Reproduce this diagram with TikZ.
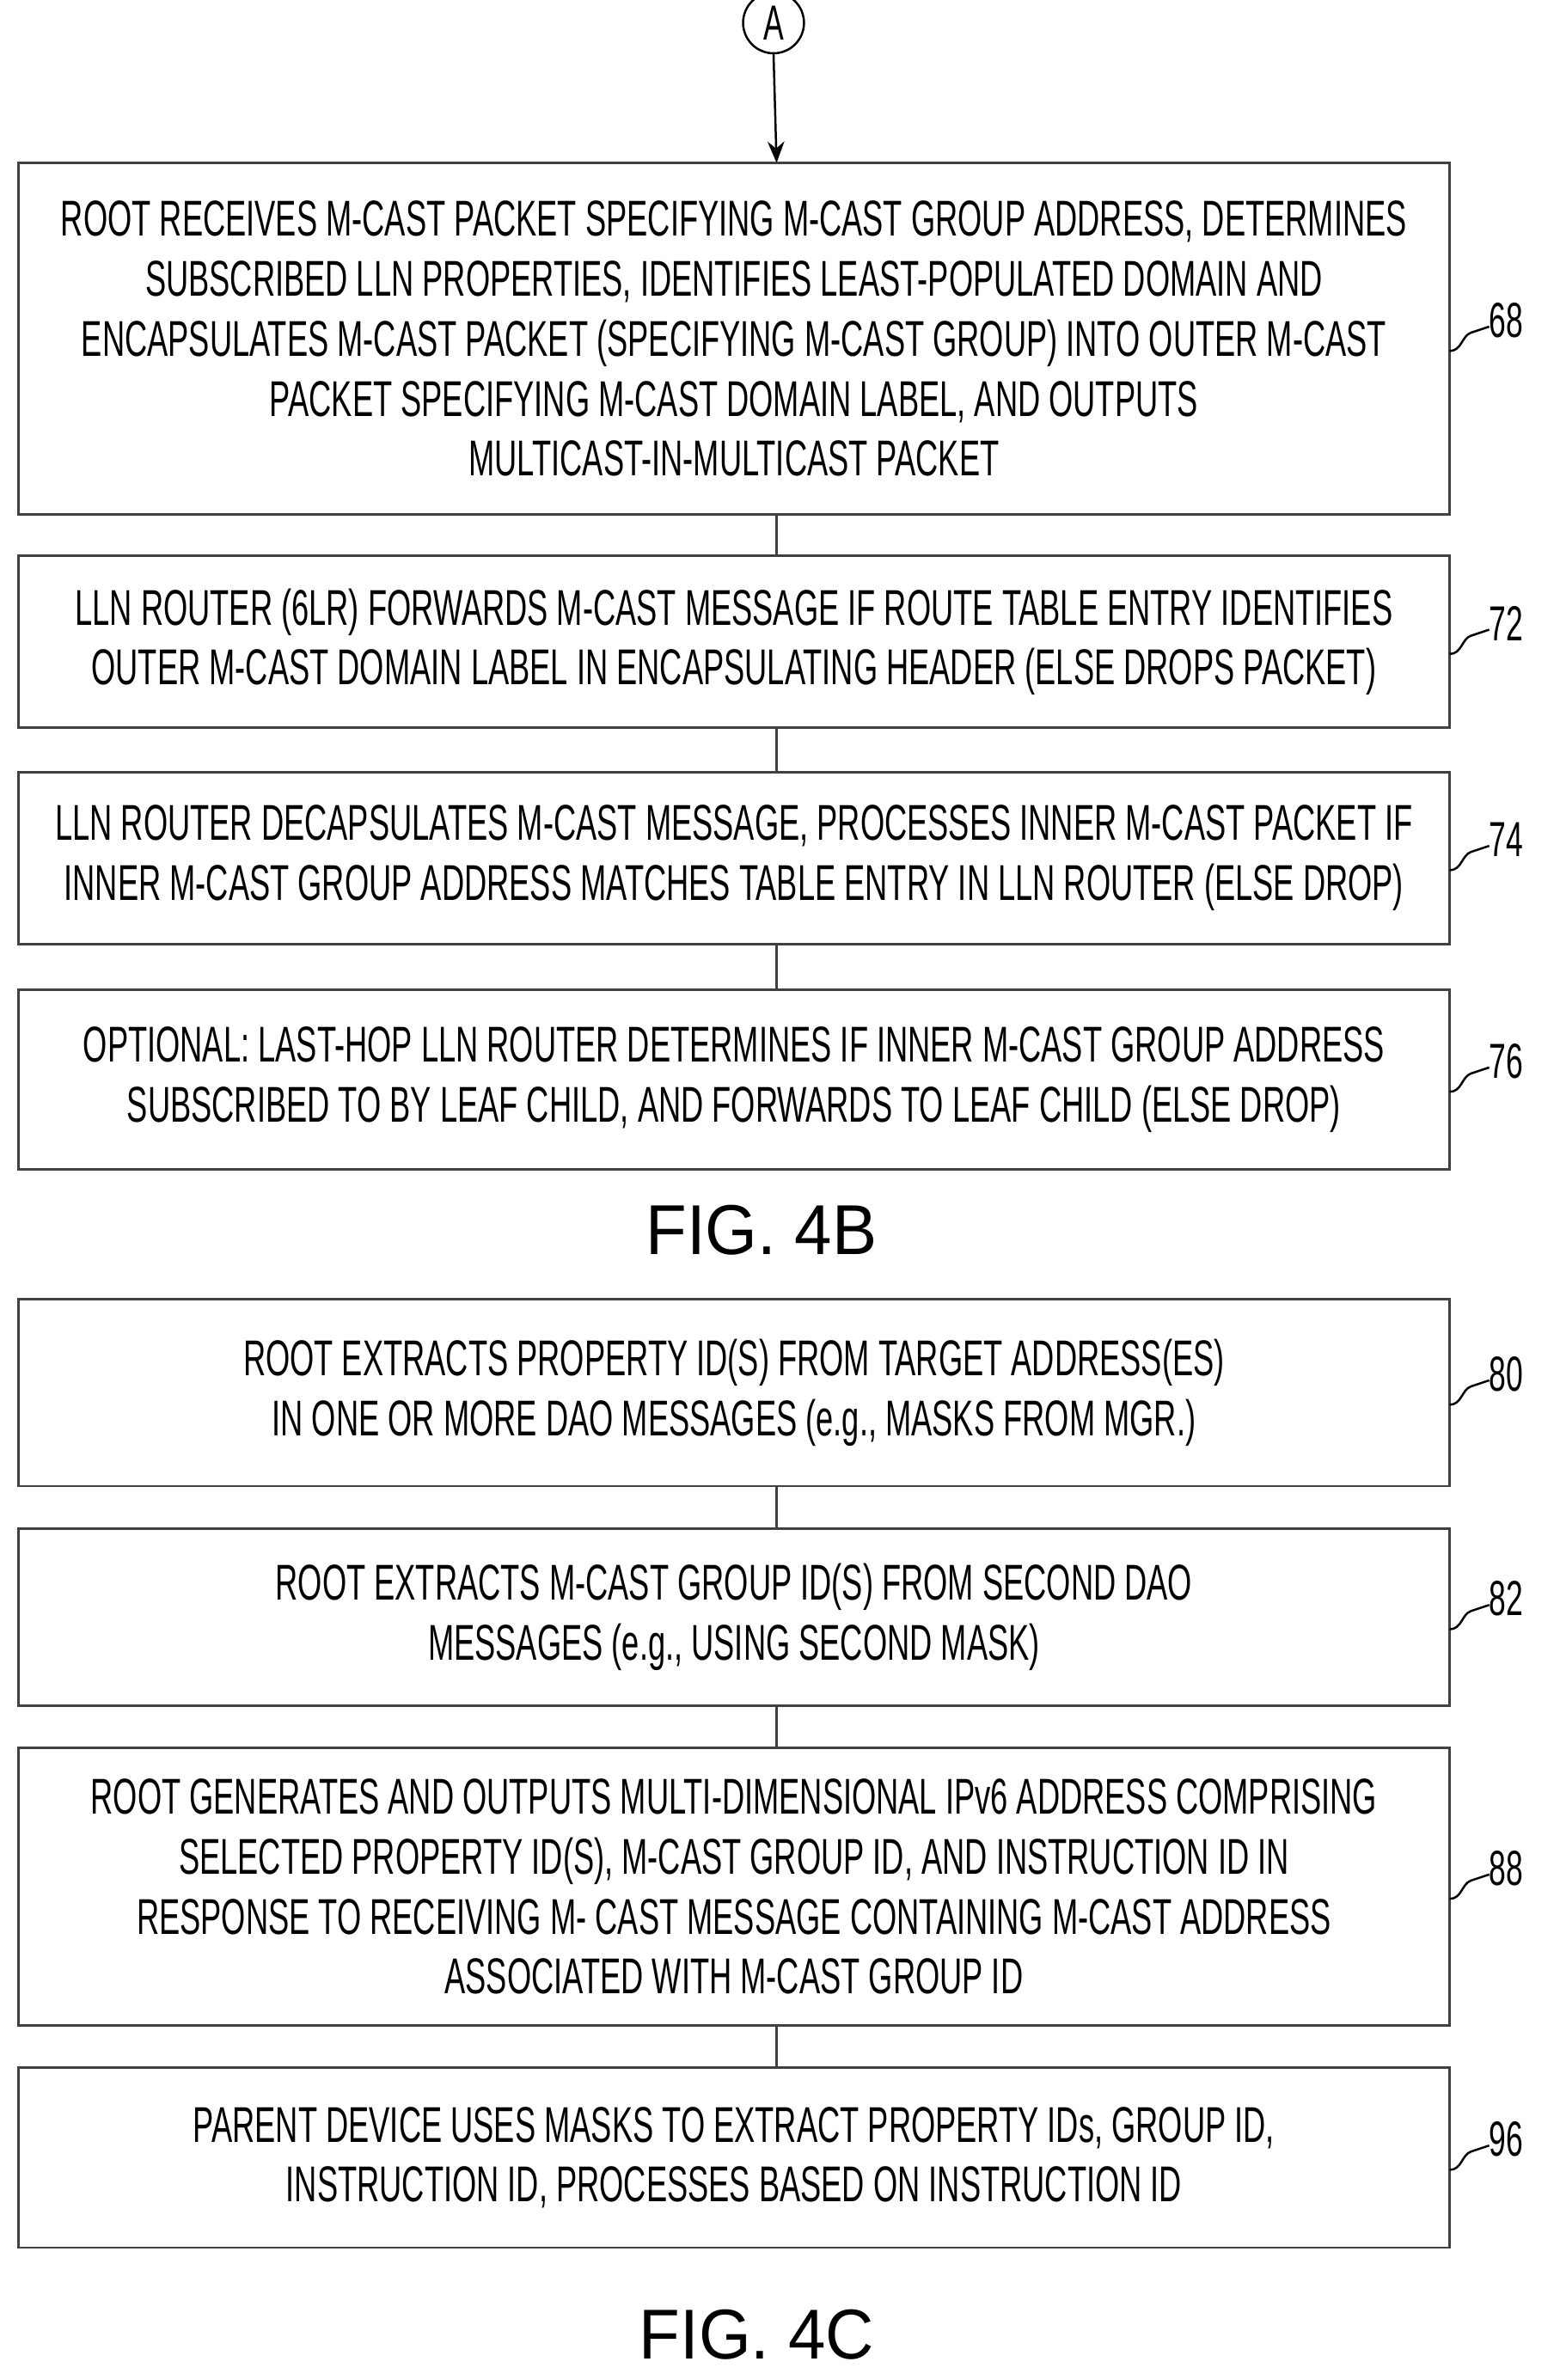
\documentclass[tikz,border=0pt]{standalone}
\usepackage{fontspec}
\usetikzlibrary{arrows.meta}
\setmainfont{Liberation Sans}[FakeStretch=0.62]
\begin{document}
\begin{tikzpicture}[x=0.05cm,y=-0.05cm,
 box/.style={draw=black!75,line width=2.2pt,align=center,font=\fontsize{47}{56}\selectfont,inner sep=0},
 lead/.style={line width=2pt},
 lbl/.style={font=\fontsize{46}{46}\selectfont,anchor=west,inner sep=0},
 con/.style={line width=2pt,black!75}]
\useasboundingbox (0,0) rectangle (1024,1563);
\node[circle,draw,line width=2pt,inner sep=0,minimum size=2cm,font=\fontsize{46}{46}\selectfont] (A) at (508,15) {A};
\newcommand\bx[5]{%
 \draw[draw=black!75,line width=2.2pt] (12,#1) rectangle (952,#2);
 \coordinate (#5t) at (510,#1); \coordinate (#5b) at (510,#2);
 \node[box,draw=none] (#5) at (482,{(#1+#2)/2}) {#3};
 \coordinate (#5r) at (952,{(#1+#2)/2});
 \draw[lead] (952,{(#1+#2)/2+8}) .. controls (960,{(#1+#2)/2+8}) and (960,{(#1+#2)/2-2}) .. (966,{(#1+#2)/2-4}) .. controls (972,{(#1+#2)/2-6}) .. (978,{(#1+#2)/2-8});
 \node[lbl] (#5n) at (978,{(#1+#2)/2-12}) {#4};}
\bx{107}{338}{ROOT RECEIVES M-CAST PACKET SPECIFYING M-CAST GROUP ADDRESS, DETERMINES\\SUBSCRIBED LLN PROPERTIES, IDENTIFIES LEAST-POPULATED DOMAIN AND\\ENCAPSULATES M-CAST PACKET (SPECIFYING M-CAST GROUP) INTO OUTER M-CAST\\PACKET SPECIFYING M-CAST DOMAIN LABEL, AND OUTPUTS\\MULTICAST-IN-MULTICAST PACKET}{68}{a}
\bx{365}{478}{LLN ROUTER (6LR) FORWARDS M-CAST MESSAGE IF ROUTE TABLE ENTRY IDENTIFIES\\OUTER M-CAST DOMAIN LABEL IN ENCAPSULATING HEADER (ELSE DROPS PACKET)}{72}{b}
\bx{507}{620}{LLN ROUTER DECAPSULATES M-CAST MESSAGE, PROCESSES INNER M-CAST PACKET IF\\INNER M-CAST GROUP ADDRESS MATCHES TABLE ENTRY IN LLN ROUTER (ELSE DROP)}{74}{c}
\bx{650}{768}{OPTIONAL: LAST-HOP LLN ROUTER DETERMINES IF INNER M-CAST GROUP ADDRESS\\SUBSCRIBED TO BY LEAF CHILD, AND FORWARDS TO LEAF CHILD (ELSE DROP)}{76}{d}
\bx{853}{976}{ROOT EXTRACTS PROPERTY ID(S) FROM TARGET ADDRESS(ES)\\IN ONE OR MORE DAO MESSAGES (e.g., MASKS FROM MGR.)}{80}{e}
\bx{1004}{1120}{ROOT EXTRACTS M-CAST GROUP ID(S) FROM SECOND DAO\\MESSAGES (e.g., USING SECOND MASK)}{82}{f}
\bx{1148}{1330}{ROOT GENERATES AND OUTPUTS MULTI-DIMENSIONAL IPv6 ADDRESS COMPRISING\\SELECTED PROPERTY ID(S), M-CAST GROUP ID, AND INSTRUCTION ID IN\\RESPONSE TO RECEIVING M- CAST MESSAGE CONTAINING M-CAST ADDRESS\\ASSOCIATED WITH M-CAST GROUP ID}{88}{g}
\bx{1358}{1476}{PARENT DEVICE USES MASKS TO EXTRACT PROPERTY IDs, GROUP ID,\\INSTRUCTION ID, PROCESSES BASED ON INSTRUCTION ID}{96}{h}
\draw[line width=2pt,-{Stealth[length=0.7cm,width=0.55cm]}] (A.south) -- (at);
\foreach \u/\v in {a/b,b/c,c/d,e/f,f/g,g/h} \draw[con] (\u b) -- (\v t);
\node[font=\fontsize{66}{66}\selectfont\addfontfeature{FakeStretch=0.95}] (f4b) at (500,808) {FIG. 4B};
\node[font=\fontsize{66}{66}\selectfont\addfontfeature{FakeStretch=0.95}] (f4c) at (497,1533) {FIG. 4C};
\end{tikzpicture}
\end{document}
